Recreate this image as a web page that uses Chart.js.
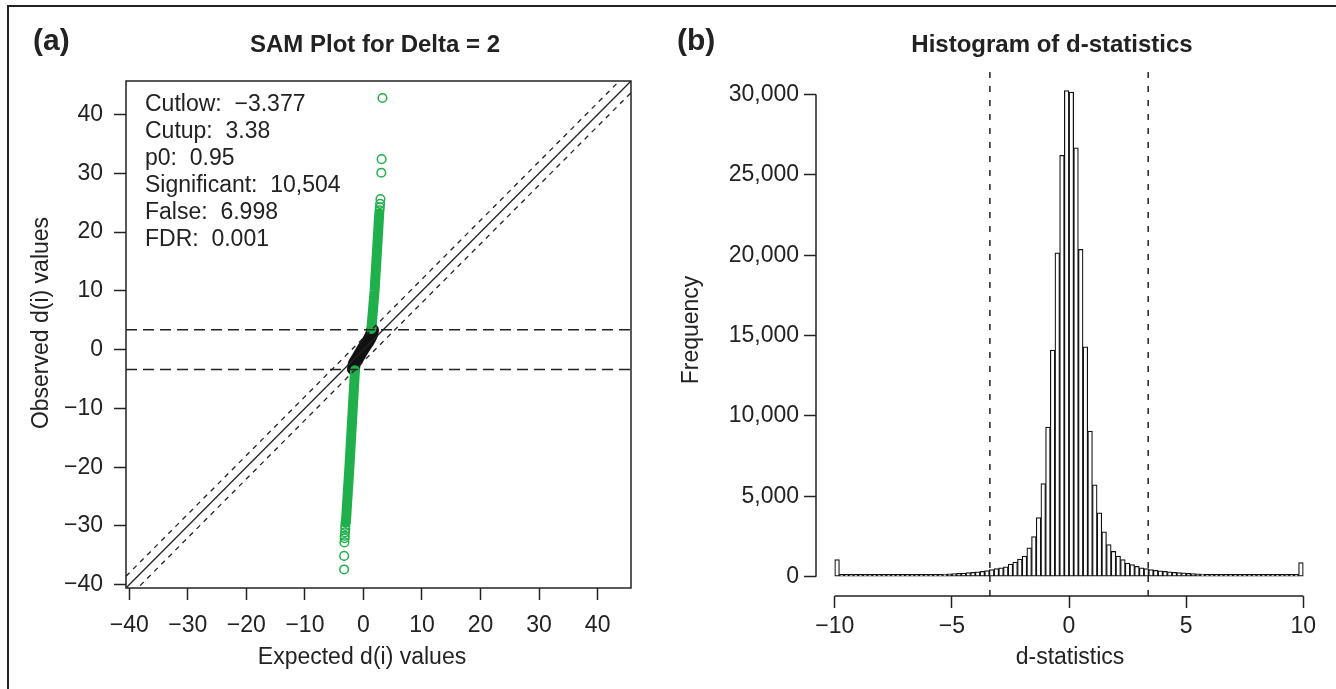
<!DOCTYPE html>
<html>
<head>
<meta charset="utf-8">
<script src="https://cdn.jsdelivr.net/npm/chart.js@4.4.1/dist/chart.umd.min.js"></script>
<style>
  body { margin: 0; background: #fff; }
  #page { position: relative; width: 1336px; height: 689px; overflow: hidden; }
  #frame { position: absolute; left: 7px; top: 5px; right: -5px; bottom: -5px; border-top: 2px solid #222; border-left: 2px solid #222; }
  #samWrap { position: absolute; left: 0; top: 0; width: 660px; height: 689px; }
  #histWrap { position: absolute; left: 660px; top: 0; width: 676px; height: 689px; }
</style>
</head>
<body>
<div id="page">
  <div id="frame"></div>
  <div id="samWrap"><canvas id="samChart" width="660" height="689"></canvas></div>
  <div id="histWrap"><canvas id="histChart" width="676" height="689"></canvas></div>
</div>
<script>
// ---- panel (a): SAM plot ----
const delta = 2;
const cutlow = -3.377;
const cutup = 3.38;
const samInfo = ['Cutlow:  \u22123.377', 'Cutup:  3.38', 'p0:  0.95', 'Significant:  10,504', 'False:  6.998', 'FDR:  0.001'];
const samRange = [-40.56, 45.7];   // same limits on both axes
const samTicks = [-40, -30, -20, -10, 0, 10, 20, 30, 40];

// non-significant genes (black band), expected vs observed d(i)
const nullX = [-1.7, -1.55, -0.9, 0.0, 0.9, 1.4, 1.55];
const nullY = [-3.3, -2.4, -1.3, 0.2, 1.6, 2.6, 3.3];
// significant genes, the dense part of the two green bands
const upX = [1.35, 1.9, 2.7];
const upY = [3.5, 10, 23.2];
const downX = [-1.45, -2.4, -3.0];
const downY = [-3.5, -20, -29.4];
// significant genes that stand apart as single circles
const upOutX = [2.75, 2.8, 2.85, 2.9, 3.05, 3.1, 3.25];
const upOutY = [23.7, 24.2, 24.8, 25.6, 30.1, 32.4, 42.8];
const downOutX = [-3.05, -3.1, -3.1, -3.15, -3.2, -3.2, -3.25, -3.3, -3.3];
const downOutY = [-29.4, -30.0, -30.5, -31.1, -31.7, -32.1, -32.8, -35.1, -37.4];

// ---- panel (b): histogram of d-statistics, bins of 0.2 from -10 to 10 ----
const binStart = -10;
const binWidth = 0.2;
const counts = [
  1070,
  30, 30, 35, 40, 40, 45, 50, 55, 60, 60, 65, 70, 75, 80, 90, 95,
  105, 110, 120, 130, 140, 150, 165, 180, 195, 210, 230, 250, 270, 300, 330, 380,
  440, 500, 560, 620, 790, 915, 1100, 1290, 1790, 2500, 3680, 5800, 9310, 14100, 20150, 26220,
  30250, 30150, 26680, 20360, 14300, 9060, 5720, 3970, 2790, 2000, 1580, 1290, 1060, 850, 750, 640, 560, 500,
  450, 400, 360, 330, 300, 275, 255, 235, 215, 200, 185, 170, 155, 145, 135, 125,
  115, 105, 95, 90, 85, 75, 70, 65, 60, 55, 50, 45, 40, 40, 35, 30,
  880
];
const histXRange = [-10.8, 10.8];
const histYRange = [-1200, 31400];
const histXTicks = [-10, -5, 0, 5, 10];
const histYTicks = [0, 5000, 10000, 15000, 20000, 25000, 30000];

const fontFamily = "'Liberation Sans', Arial, Helvetica, sans-serif";
Chart.defaults.font.family = fontFamily;
Chart.defaults.font.size = 23;
Chart.defaults.color = '#222';

const ink = '#222';
const green = '#20b04b';

const toMinus = v => String(v).replace('-', '\u2212');
const xy = (xs, ys) => xs.map((x, i) => ({ x: x, y: ys[i] }));

// R-like axis: outward tick marks, no grid, fixed tick values
function tickAxis(range, values, extra) {
  return Object.assign({
    type: 'linear',
    min: range[0],
    max: range[1],
    offset: false,
    border: { display: false },
    grid: { display: true, drawOnChartArea: false, drawTicks: true, tickLength: 12, tickColor: ink, tickWidth: 1.5, offset: false },
    afterBuildTicks: s => { s.ticks = values.map(v => ({ value: v })); }
  }, extra);
}

// box, titles and labels of the SAM plot
const samText = {
  id: 'samText',
  afterDraw(chart) {
    const ctx = chart.ctx;
    const a = chart.chartArea;
    ctx.save();
    ctx.strokeStyle = ink;
    ctx.lineWidth = 1.5;
    ctx.strokeRect(a.left, a.top, a.right - a.left, a.bottom - a.top);
    ctx.fillStyle = ink;
    ctx.textBaseline = 'middle';
    ctx.textAlign = 'left';
    ctx.font = 'bold 30px ' + fontFamily;
    ctx.fillText('(a)', 33, 42);
    ctx.textAlign = 'center';
    ctx.font = 'bold 24px ' + fontFamily;
    ctx.fillText('SAM Plot for Delta = 2', 375, 45);
    ctx.font = '23px ' + fontFamily;
    ctx.textAlign = 'left';
    samInfo.forEach((s, i) => ctx.fillText(s, 145, 105 + i * 27));
    ctx.textAlign = 'center';
    ctx.fillText('Expected d(i) values', 362, 658);
    ctx.translate(42, 323);
    ctx.rotate(-Math.PI / 2);
    ctx.fillText('Observed d(i) values', 0, 0);
    ctx.restore();
  }
};

const bandStyle = { showLine: true, pointRadius: 0, borderCapStyle: 'round', borderJoinStyle: 'round' };
const ringStyle = { pointRadius: 4.3, borderWidth: 1.5, borderColor: green, backgroundColor: 'rgba(0,0,0,0)' };
const refLine = { showLine: true, pointRadius: 0, borderColor: ink, clip: 0 };

new Chart(document.getElementById('samChart'), {
  type: 'scatter',
  data: {
    datasets: [
      Object.assign({ data: xy(nullX, nullY), borderColor: '#111', borderWidth: 13, tension: 0.3, order: 6 }, bandStyle),
      Object.assign({ data: xy(upX, upY), borderColor: green, borderWidth: 10, order: 5 }, bandStyle),
      Object.assign({ data: xy(downX, downY), borderColor: green, borderWidth: 10, order: 5 }, bandStyle),
      Object.assign({ data: xy(upOutX, upOutY), order: 4 }, ringStyle),
      Object.assign({ data: xy(downOutX, downOutY), order: 4 }, ringStyle),
      Object.assign({ data: samRange.map(v => ({ x: v, y: v })), borderWidth: 1.3, order: 1 }, refLine),
      Object.assign({ data: samRange.map(v => ({ x: v, y: v + delta })), borderWidth: 1.3, borderDash: [5, 5], order: 1 }, refLine),
      Object.assign({ data: samRange.map(v => ({ x: v, y: v - delta })), borderWidth: 1.3, borderDash: [5, 5], order: 1 }, refLine),
      Object.assign({ data: samRange.map(v => ({ x: v, y: cutup })), borderWidth: 1.6, borderDash: [11, 6], order: 1 }, refLine),
      Object.assign({ data: samRange.map(v => ({ x: v, y: cutlow })), borderWidth: 1.6, borderDash: [11, 6], order: 1 }, refLine)
    ]
  },
  options: {
    responsive: false,
    animation: false,
    events: [],
    layout: { padding: { left: 0, top: 81, right: 29, bottom: 0 } },
    plugins: { legend: { display: false }, tooltip: { enabled: false } },
    scales: {
      x: tickAxis(samRange, samTicks, {
        afterFit: s => { s.height = 101; },
        ticks: { padding: 12, maxRotation: 0, autoSkip: false, callback: toMinus }
      }),
      y: tickAxis(samRange, samTicks, {
        afterFit: s => { s.width = 126; },
        ticks: { padding: 11, autoSkip: false, callback: toMinus }
      })
    }
  },
  plugins: [samText]
});

// axis lines (only across the tick range, as R draws them) and texts of the histogram
const histText = {
  id: 'histText',
  afterDraw(chart) {
    const ctx = chart.ctx;
    const xs = chart.scales.x, ys = chart.scales.y;
    const xt = xs.ticks, yt = ys.ticks;
    ctx.save();
    ctx.strokeStyle = ink;
    ctx.lineWidth = 1.5;
    ctx.beginPath();
    ctx.moveTo(ys.right, ys.getPixelForValue(yt[0].value));
    ctx.lineTo(ys.right, ys.getPixelForValue(yt[yt.length - 1].value));
    ctx.moveTo(xs.getPixelForValue(xt[0].value), xs.top);
    ctx.lineTo(xs.getPixelForValue(xt[xt.length - 1].value), xs.top);
    ctx.stroke();
    ctx.fillStyle = ink;
    ctx.textBaseline = 'middle';
    ctx.textAlign = 'left';
    ctx.font = 'bold 30px ' + fontFamily;
    ctx.fillText('(b)', 17, 42);
    ctx.textAlign = 'center';
    ctx.font = 'bold 24px ' + fontFamily;
    ctx.fillText('Histogram of d-statistics', 392, 45);
    ctx.font = '23px ' + fontFamily;
    ctx.fillText('d-statistics', 410, 658);
    ctx.translate(32, 330);
    ctx.rotate(-Math.PI / 2);
    ctx.fillText('Frequency', 0, 0);
    ctx.restore();
  }
};

const binCentres = counts.map((c, i) => binStart + (i + 0.5) * binWidth);
const cutLine = v => ({
  type: 'line',
  data: histYRange.map(y => ({ x: v, y: y })),
  borderColor: ink, borderWidth: 1.5, borderDash: [6, 8], pointRadius: 0, clip: 0, order: 0
});

new Chart(document.getElementById('histChart'), {
  type: 'bar',
  data: {
    datasets: [
      {
        type: 'bar',
        data: binCentres.map((x, i) => ({ x: x, y: counts[i] })),
        backgroundColor: '#fff',
        borderColor: '#111',
        borderWidth: 1.25,
        borderSkipped: false,
        minBarLength: 2.5,
        barPercentage: 1,
        categoryPercentage: 1,
        order: 1
      },
      cutLine(cutlow),
      cutLine(cutup)
    ]
  },
  options: {
    responsive: false,
    animation: false,
    events: [],
    layout: { padding: { left: 0, top: 72, right: 14, bottom: 0 } },
    plugins: { legend: { display: false }, tooltip: { enabled: false } },
    scales: {
      x: tickAxis(histXRange, histXTicks, {
        afterFit: s => { s.height = 93; },
        ticks: { padding: 5, maxRotation: 0, autoSkip: false, callback: toMinus }
      }),
      y: tickAxis(histYRange, histYTicks, {
        afterFit: s => { s.width = 156; },
        ticks: { padding: 5, autoSkip: false, callback: v => v.toLocaleString('en-US') }
      })
    }
  },
  plugins: [histText]
});
</script>
</body>
</html>
